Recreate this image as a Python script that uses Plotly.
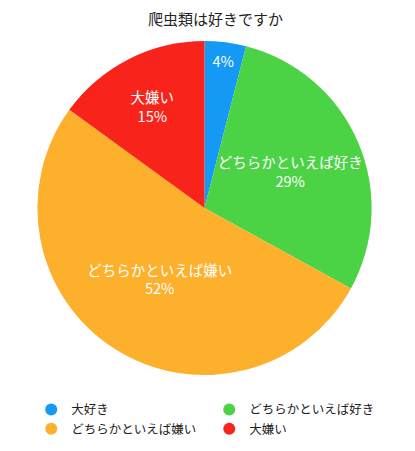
"""Pie chart: 爬虫類は好きですか (survey answers)."""

import plotly.graph_objects as go


FONT = "Noto Sans CJK JP, Noto Sans, sans-serif"

labels = ["大好き", "どちらかといえば好き", "どちらかといえば嫌い", "大嫌い"]
values = [4, 29, 52, 15]
colors = ["#1499f5", "#4bd245", "#fdb02b", "#f8231a"]
templates = ["%{percent:.0%}", "%{label}<br>%{percent:.0%}",
             "%{label}<br>%{percent:.0%}", "%{label}<br>%{percent:.0%}"]


def main() -> None:
    fig = go.Figure()

    fig.add_trace(
        go.Pie(
            labels=labels,
            values=values,
            marker=dict(colors=colors, line=dict(width=0)),
            sort=False,
            direction="clockwise",
            rotation=0,
            texttemplate=templates,
            textposition="inside",
            insidetextorientation="horizontal",
            textfont=dict(color="white", size=14.5, family=FONT),
            showlegend=False,
            hoverinfo="label+percent",
            domain=dict(x=[0.070, 0.877], y=[0.186, 0.927]),
        )
    )

    # legend entries drawn as circles
    for name, col in zip(labels, colors):
        fig.add_trace(
            go.Scatter(
                x=[None], y=[None], mode="markers", name=name,
                marker=dict(symbol="circle", size=10, color=col),
            )
        )

    fig.update_layout(
        width=415,
        height=451,
        margin=dict(l=0, r=0, t=0, b=0),
        paper_bgcolor="white",
        plot_bgcolor="white",
        font=dict(family=FONT, size=12, color="#222222"),
        title=dict(text="爬虫類は好きですか", x=0.5, xanchor="center",
                   y=0.975, yanchor="middle", yref="container",
                   font=dict(size=15, color="#222222", family=FONT)),
        xaxis=dict(visible=False),
        yaxis=dict(visible=False),
        uniformtext=dict(minsize=14.5, mode="show"),
        legend=dict(
            orientation="h",
            x=0.056, xanchor="left",
            y=0.142, yanchor="top",
            entrywidth=133,
            tracegroupgap=0,
            itemsizing="constant",
            font=dict(size=12.5, family=FONT, color="#222222"),
        ),
    )

    fig.write_html("out.html")


if __name__ == "__main__":
    main()
